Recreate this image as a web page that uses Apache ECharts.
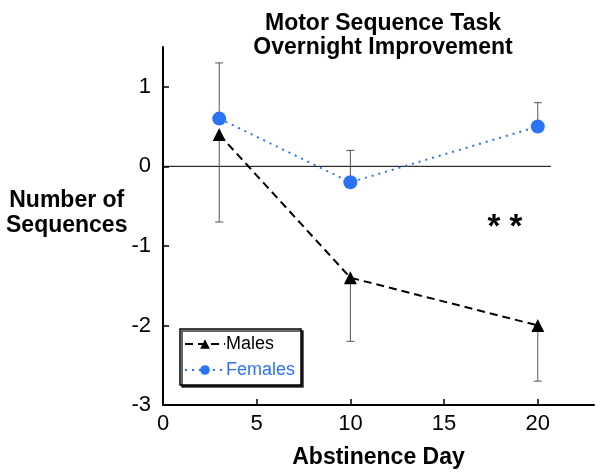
<!DOCTYPE html>
<html>
<head>
<meta charset="utf-8">
<script src="https://cdn.jsdelivr.net/npm/echarts@6/dist/echarts.min.js"></script>
<style>html,body{margin:0;padding:0;background:#fff;}#c{width:603px;height:476px;}</style>
</head>
<body>
<div id="c"></div>
<script>
const days = [3, 10, 20];
const malesMean = [0.4, -1.4, -2.0];
const malesErrLow = [-0.7, -2.2, -2.7];
const femalesMean = [0.6, -0.2, 0.5];
const femalesErrHigh = [1.3, 0.2, 0.8];
const xTicks = [0, 5, 10, 15, 20];
const yTicks = [-3, -2, -1, 0, 1];
const zeroLineRange = [0, 20.7];

const FONT = '"Liberation Sans", Arial, Helvetica, sans-serif';
const BLUE = '#2a74f2';

const chart = echarts.init(document.getElementById('c'), null, {renderer: 'canvas'});

function errSeries(name, means, ends) {
  return {
    type: 'custom',
    name: name,
    silent: true,
    z: 1,
    data: days.map((d, i) => [d, means[i], ends[i]]),
    renderItem: function (params, api) {
      const p0 = api.coord([api.value(0), api.value(1)]);
      const p1 = api.coord([api.value(0), api.value(2)]);
      const cw = 4;
      return {
        type: 'group',
        children: [
          {type: 'line', shape: {x1: p0[0], y1: p0[1], x2: p1[0], y2: p1[1]}, style: {stroke: '#555', lineWidth: 1}},
          {type: 'line', shape: {x1: p1[0] - cw, y1: p1[1], x2: p1[0] + cw, y2: p1[1]}, style: {stroke: '#555', lineWidth: 1}}
        ]
      };
    }
  };
}

const option = {
  backgroundColor: '#fff',
  animation: false,
  title: {
    text: 'Motor Sequence Task\nOvernight Improvement',
    left: 378, top: 7, textAlign: 'center',
    textStyle: {fontFamily: FONT, fontWeight: 'bold', fontSize: 23, lineHeight: 24, color: '#000'}
  },
  grid: {left: 163, right: 9, top: 47, bottom: 71, containLabel: false, outerBoundsMode: 'none'},
  legend: {
    left: 180, top: 329,
    orient: 'vertical',
    itemWidth: 40, itemHeight: 12, itemGap: 8,
    padding: [6, 6, 6, 4],
    borderColor: '#000', borderWidth: 1.5,
    backgroundColor: '#fff',
    shadowColor: 'rgba(0,0,0,0.8)', shadowOffsetX: 2, shadowOffsetY: 2, shadowBlur: 0,
    textStyle: {fontFamily: FONT, fontSize: 18, padding: [0, 0, 0, -4]},
    data: [
      {name: 'Males', textStyle: {color: '#000'}},
      {name: 'Females', textStyle: {color: BLUE}}
    ]
  },
  xAxis: {
    type: 'value', min: 0, max: 23, interval: 5,
    name: 'Abstinence Day', nameLocation: 'middle', nameGap: 41,
    nameTextStyle: {fontFamily: FONT, fontWeight: 'bold', fontSize: 23, color: '#000'},
    axisLine: {show: true, onZero: false, lineStyle: {color: '#000', width: 2}},
    axisTick: {show: true, inside: true, length: 6, lineStyle: {color: '#000', width: 1.5}},
    axisLabel: {fontFamily: FONT, fontSize: 22, color: '#000', margin: 8, showMaxLabel: false,
      formatter: v => xTicks.includes(v) ? String(v) : ''},
    splitLine: {show: false}
  },
  yAxis: {
    type: 'value', min: -3, max: 1.5, interval: 1,
    axisLine: {show: true, onZero: false, lineStyle: {color: '#000', width: 2}},
    axisTick: {show: true, inside: true, length: 6, lineStyle: {color: '#000', width: 1.5}},
    axisLabel: {fontFamily: FONT, fontSize: 22, color: '#000', margin: 12, showMaxLabel: false,
      formatter: v => yTicks.includes(v) ? String(v) : ''},
    splitLine: {show: false}
  },
  graphic: [
    {type: 'text', left: 6, top: 188, style: {text: 'Number of\nSequences', font: 'bold 23px ' + FONT, fill: '#000', textAlign: 'center', lineHeight: 25}},
    {type: 'text', x: 505, y: 228, style: {text: '* *', font: 'bold 33px ' + FONT, fill: '#000', align: 'center', verticalAlign: 'middle'}}
  ],
  series: [
    {
      type: 'line', name: 'zero', silent: true, symbol: 'none', z: 0,
      data: [[zeroLineRange[0], 0], [zeroLineRange[1], 0]],
      lineStyle: {color: '#000', width: 1}
    },
    errSeries('femErr', femalesMean, femalesErrHigh),
    errSeries('maleErr', malesMean, malesErrLow),
    {
      type: 'line', name: 'Males', z: 3,
      data: days.map((d, i) => [d, malesMean[i]]),
      symbol: 'triangle', symbolSize: 13,
      itemStyle: {color: '#000'},
      lineStyle: {color: '#000', width: 2, type: [8, 5]}
    },
    {
      type: 'line', name: 'Females', z: 4,
      data: days.map((d, i) => [d, femalesMean[i]]),
      symbol: 'circle', symbolSize: 14,
      itemStyle: {color: BLUE},
      lineStyle: {color: BLUE, width: 2, type: [2, 5]}
    }
  ]
};
chart.setOption(option);
</script>
</body>
</html>
